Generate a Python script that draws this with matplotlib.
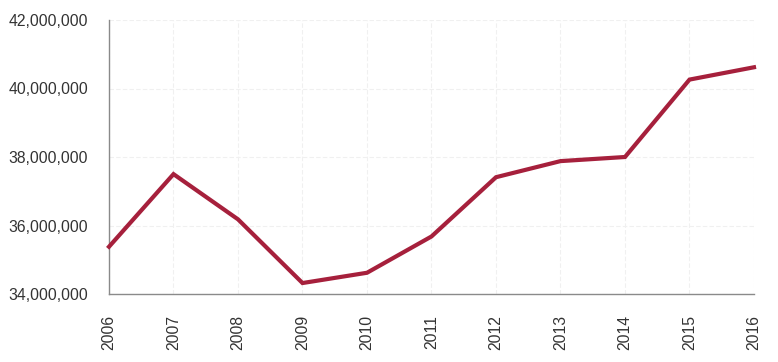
import matplotlib
matplotlib.use("Agg")
import matplotlib.pyplot as plt
from matplotlib.ticker import FuncFormatter

years = [2006, 2007, 2008, 2009, 2010, 2011, 2012, 2013, 2014, 2015, 2016]
values = [35380000, 37500000, 36180000, 34320000, 34620000, 35680000,
          37410000, 37880000, 38000000, 40260000, 40620000]
y_ticks = [34000000, 36000000, 38000000, 40000000, 42000000]

plt.rcParams['font.family'] = ['Liberation Sans', 'DejaVu Sans']

fig = plt.figure(figsize=(7.78, 3.62), dpi=100)
ax = fig.add_axes([109/778, (362-294)/362, (754-109)/778, (294-20)/362])

ax.plot(years, values, color='#a6203c', linewidth=3.0, solid_joinstyle='miter',
        clip_on=False, zorder=3)

ax.set_xlim(years[0], years[-1])
ax.set_ylim(y_ticks[0], y_ticks[-1])
ax.set_xticks(years)
ax.set_xticklabels([str(y) for y in years], rotation=90)
ax.set_yticks(y_ticks)
ax.yaxis.set_major_formatter(FuncFormatter(lambda v, p: f"{int(v):,}"))

ax.grid(True, color='#f0f0f0', linewidth=0.8, linestyle=(0, (4, 2)))
ax.set_axisbelow(True)
for s in ['top', 'right']:
    ax.spines[s].set_visible(False)
for s in ['left', 'bottom']:
    ax.spines[s].set_color('#8a8a8a')
    ax.spines[s].set_linewidth(1.0)

ax.tick_params(axis='both', length=0, labelsize=11.3, labelcolor='#333333')
ax.tick_params(axis='x', pad=15)
ax.tick_params(axis='y', pad=15)

fig.savefig('out.png', dpi=100, facecolor='white')
